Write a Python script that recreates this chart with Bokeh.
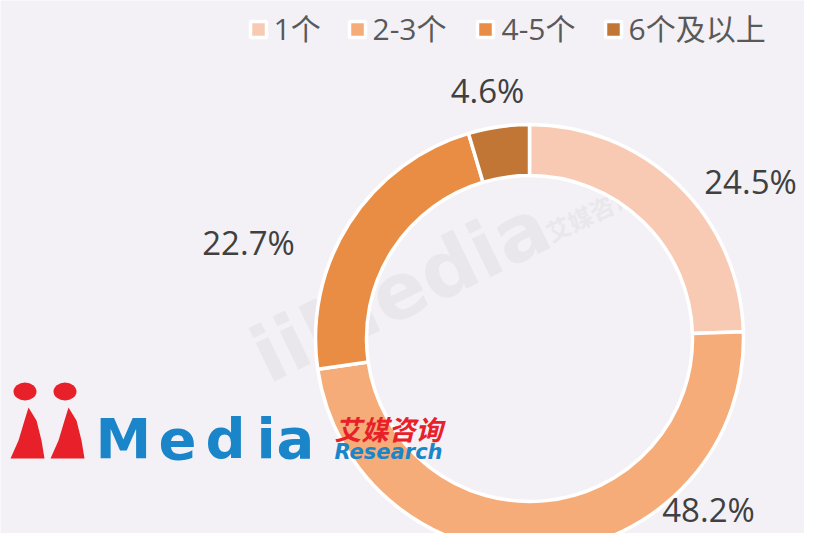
import numpy as np
from bokeh.plotting import figure
from bokeh.models import Range1d
from bokeh.core.properties import value
from bokeh.embed import file_html
from bokeh.resources import INLINE

# ---------------- data ----------------
categories = ["1个", "2-3个", "4-5个", "6个及以上"]
shares = [24.5, 48.2, 22.7, 4.6]
label_texts = ["24.5%", "48.2%", "22.7%", "4.6%"]
colors = ["#F8CAB3", "#F6AC79", "#E88D43", "#C27636"]

# ---------------- layout (pixel coords from top-left) ----------------
W, H = 804, 533
BG = "#F3F1F5"

def Y(yref):
    return H - yref

cx, cy = 529, 338
r_in, r_out = 163, 214

# vertical centres of the label texts
label_x = [750, 708, 248, 487]
label_mid = [181, 509, 242, 90]

leg_sq_x = [258, 357, 485, 613]
leg_txt_x = [273, 372, 501, 628]
leg_sq_y = 29
leg_mid = 28

p = figure(width=W, height=H, output_backend="svg", toolbar_location=None,
           x_range=Range1d(0, W), y_range=Range1d(0, H),
           min_border=0, outline_line_color=None)
p.axis.visible = False
p.grid.visible = False
p.background_fill_color = BG
p.border_fill_color = BG

# faint watermark
p.text(x=[400], y=[Y(290)], text=["iiMedia"], angle=0.45, text_align="center",
       text_baseline="middle", text_color="#E9E7EB", text_font_size="78px",
       text_font=value("DejaVu Sans"), text_font_style="bold")
p.text(x=[590], y=[Y(212)], text=["艾媒咨询"], angle=0.45, text_align="center",
       text_baseline="middle", text_color="#E9E7EB", text_font_size="24px",
       text_font=value("Noto Sans CJK SC"), text_font_style="bold")

# donut
fr = np.array(shares) / sum(shares)
cum = np.concatenate([[0], np.cumsum(fr)])
start = np.pi / 2 - cum[:-1] * 2 * np.pi
end = np.pi / 2 - cum[1:] * 2 * np.pi
p.annular_wedge(x=cx, y=Y(cy), inner_radius=r_in, outer_radius=r_out,
                start_angle=start, end_angle=end, direction="clock",
                fill_color=colors, line_color="white", line_width=3.5)

# data labels
p.text(x=label_x, y=[Y(v) for v in label_mid], text=label_texts,
       text_align="center", text_baseline="middle", text_color="#404040",
       text_font_size="33px", text_font=value("Open Sans"))

# legend
p.scatter(x=leg_sq_x, y=[Y(leg_sq_y)] * 4, marker="square", size=16,
          fill_color=colors, line_color="white", line_width=3.5)
p.text(x=leg_txt_x, y=[Y(leg_mid)] * 4, text=categories,
       text_align="left", text_baseline="middle", text_color="#595959",
       text_font_size="30px", text_font=value("Open Sans, Noto Sans CJK SC"))

# logo (decoration)
RED = "#E8202A"
BLUE = "#1A85C8"
p.ellipse(x=[24.5, 64.5], y=[Y(391), Y(391)], width=23, height=18,
          fill_color=RED, line_color=None)
stem_dx = [0, 40]
base_x = [10, 18, 24, 28, 36, 41, 44]
base_y = [458, 440, 420, 407, 420, 440, 458]
p.patches(xs=[[bx + d for bx in base_x] for d in stem_dx],
          ys=[[Y(by) for by in base_y]] * 2, fill_color=RED, line_color=None)
logo_letters = ["M", "e", "d", "i", "a"]
logo_lx = [95, 158, 205, 256, 276]
p.text(x=logo_lx, y=[Y(438)] * 5, text=logo_letters, text_align="left",
       text_baseline="middle", text_color=BLUE, text_font_size="56px",
       text_font=value("DejaVu Sans"), text_font_style="bold")
p.text(x=[334], y=[Y(428)], text=["艾媒咨询"], text_align="left",
       text_baseline="middle", text_color=RED, text_font_size="27px",
       text_font=value("Noto Sans CJK SC"), text_font_style="bold italic")
p.text(x=[334], y=[Y(451)], text=["Research"], text_align="left",
       text_baseline="middle", text_color=BLUE, text_font_size="21px",
       text_font=value("DejaVu Sans"), text_font_style="bold italic")

open("out.html", "w").write(file_html(p, INLINE))
